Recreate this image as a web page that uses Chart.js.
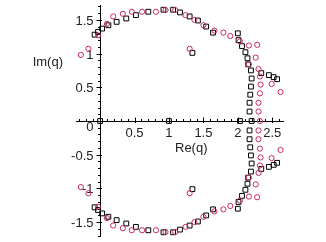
<!DOCTYPE html>
<html>
<head>
<meta charset="utf-8">
<script src="https://cdn.jsdelivr.net/npm/chart.js@4/dist/chart.umd.min.js"></script>
<style>
  body { margin: 0; background: #fff; }
  #wrap { width: 326px; height: 242px; }
</style>
</head>
<body>
<div id="wrap"><canvas id="roots" width="326" height="242"></canvas></div>
<script>
// black squares (upper half, lower half, on real axis)
const blackRe = [-0.08, -0.03, 0.03, 0.12, 0.24, 0.38, 0.52, 0.70, 0.92, 1.06, 1.16, 1.30, 1.42, 1.54, 1.64,
                 2.00, 2.01, 2.06, 2.11, 2.14, 2.15, 2.19, 2.20, 2.19, 2.18, 2.17, 2.17, 2.34, 2.45, 2.52, 2.57, 1.34,
                 -0.08, -0.03, 0.03, 0.12, 0.24, 0.38, 0.52, 0.70, 0.92, 1.06, 1.16, 1.30, 1.42, 1.54, 1.64,
                 2.00, 2.01, 2.06, 2.11, 2.14, 2.15, 2.19, 2.20, 2.19, 2.18, 2.17, 2.17, 2.34, 2.45, 2.52, 2.57, 1.34,
                 0, 1.0, 2.03, 2.20]
const blackIm = [1.28, 1.32, 1.37, 1.42, 1.47, 1.52, 1.57, 1.62, 1.65, 1.65, 1.61, 1.55, 1.49, 1.40, 1.31,
                 1.30, 1.20, 1.11, 1.02, 0.93, 0.84, 0.75, 0.63, 0.51, 0.39, 0.27, 0.14, 0.71, 0.68, 0.65, 0.62, 1.01,
                 -1.28, -1.32, -1.37, -1.42, -1.47, -1.52, -1.57, -1.62, -1.65, -1.65, -1.61, -1.55, -1.49, -1.40, -1.31,
                 -1.30, -1.20, -1.11, -1.02, -0.93, -0.84, -0.75, -0.63, -0.51, -0.39, -0.27, -0.14, -0.71, -0.68, -0.65, -0.62, -1.01,
                 0, 0, 0, 0]

// red circles
const redRe = [-0.28, -0.17, -0.03, 0.10, 0.19, 0.33, 0.46, 0.61, 0.81, 0.95, 1.09, 1.24, 1.37, 1.50, 1.66, 1.79,
               1.89, 2.03, 2.16, 2.28, 2.26, 2.16, 2.30, 2.32, 2.49, 2.62, 2.33, 2.32, 2.30, 2.30, 1.30,
               -0.28, -0.17, -0.03, 0.10, 0.19, 0.33, 0.46, 0.61, 0.81, 0.95, 1.09, 1.24, 1.37, 1.50, 1.66, 1.79,
               1.89, 2.03, 2.16, 2.28, 2.26, 2.16, 2.30, 2.32, 2.49, 2.62, 2.33, 2.32, 2.30, 2.30, 1.30,
               2.32]
const redIm = [0.98, 1.07, 1.27, 1.44, 1.55, 1.59, 1.62, 1.62, 1.62, 1.645, 1.645, 1.57, 1.50, 1.42, 1.34, 1.31,
               1.26, 1.18, 1.12, 1.13, 0.94, 0.84, 0.77, 0.66, 0.55, 0.43, 0.54, 0.41, 0.27, 0.14, 1.07,
               -0.98, -1.07, -1.27, -1.44, -1.55, -1.59, -1.62, -1.62, -1.62, -1.645, -1.645, -1.57, -1.50, -1.42, -1.34, -1.31,
               -1.26, -1.18, -1.12, -1.13, -0.94, -0.84, -0.77, -0.66, -0.55, -0.43, -0.54, -0.41, -0.27, -0.14, -1.07,
               0]

const xTickLabels = ['0.5', '1', '1.5', '2', '2.5']
const yTickLabels = ['-1.5', '-1', '-0.5', '0.5', '1', '1.5']

const toPoints = (re, im) => re.map((r, i) => ({ x: r, y: im[i] }))

const FONT = '13px "Liberation Sans", Arial, sans-serif'

// maple style axes crossing at the origin
const mapleAxes = {
    id: 'mapleAxes',
    beforeDatasetsDraw(chart) {
        const ctx = chart.ctx
        const xs = chart.scales.x
        const ys = chart.scales.y
        const x0 = Math.round(xs.getPixelForValue(0)) + 0.5
        const y0 = Math.round(ys.getPixelForValue(0)) + 0.5
        ctx.save()
        ctx.strokeStyle = '#000'
        ctx.lineWidth = 1
        ctx.beginPath()
        ctx.moveTo(xs.left, y0); ctx.lineTo(xs.right, y0)
        ctx.moveTo(x0, ys.top); ctx.lineTo(x0, ys.bottom)
        // x ticks
        for (let i = -3; i <= 26; i++) {
            const px = Math.round(xs.getPixelForValue(i / 10)) + 0.5
            const major = i % 5 === 0
            ctx.moveTo(px, y0 - (major ? 4 : 2.5)); ctx.lineTo(px, y0 + (major ? 1.5 : 0))
        }
        // y ticks
        for (let i = -17; i <= 17; i++) {
            const py = Math.round(ys.getPixelForValue(i / 10)) + 0.5
            const major = i % 5 === 0
            ctx.moveTo(x0 - (major ? 4 : 2.5), py); ctx.lineTo(x0 + (major ? 1.5 : 0), py)
        }
        ctx.stroke()

        ctx.fillStyle = '#222'
        ctx.font = FONT
        ctx.textBaseline = 'alphabetic'
        ctx.textAlign = 'center'
        xTickLabels.forEach(t => {
            ctx.fillText(t, xs.getPixelForValue(parseFloat(t)), 137)
        })
        ctx.textAlign = 'right'
        yTickLabels.forEach(t => {
            ctx.fillText(t, x0 - 7, ys.getPixelForValue(parseFloat(t)) + 5)
        })
        ctx.fillText('0', x0 - 7, 131)
        ctx.fillText('Im(q)', 63, 66)
        ctx.textAlign = 'left'
        ctx.fillText('Re(q)', 175, 152)
        ctx.restore()
    }
}

new Chart(document.getElementById('roots'), {
    type: 'scatter',
    data: {
        datasets: [{
            label: 'circles',
            data: toPoints(redRe, redIm),
            pointStyle: 'circle',
            pointRadius: 2.6,
            borderColor: 'rgb(200, 40, 100)',
            backgroundColor: 'rgba(0,0,0,0)',
            borderWidth: 1
        }, {
            label: 'squares',
            data: toPoints(blackRe, blackIm),
            pointStyle: 'rect',
            pointRadius: 3.4,
            borderColor: '#000',
            backgroundColor: 'rgba(0,0,0,0)',
            borderWidth: 1
        }]
    },
    options: {
        responsive: false,
        animation: false,
        events: [],
        layout: { padding: { left: 76, right: 42, top: 2.5, bottom: 3.5 } },
        plugins: { legend: { display: false }, tooltip: { enabled: false } },
        scales: {
            x: { type: 'linear', min: -0.35, max: 2.67, display: false },
            y: { type: 'linear', min: -1.72, max: 1.72, display: false }
        }
    },
    plugins: [mapleAxes]
});
</script>
</body>
</html>
